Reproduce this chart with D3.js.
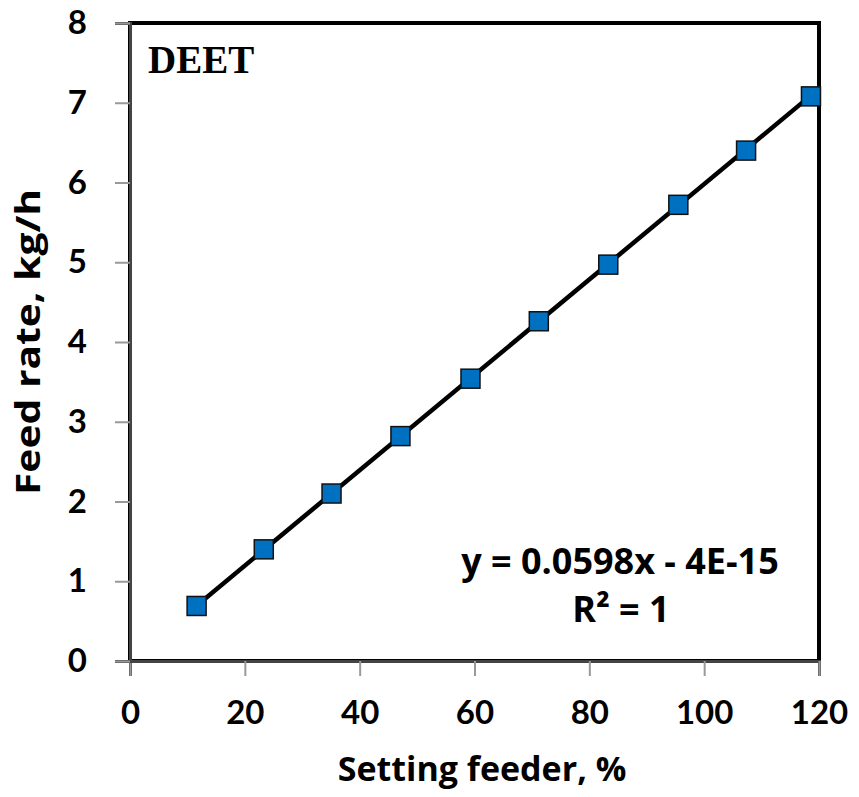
<!DOCTYPE html>
<html><head><meta charset="utf-8">
<script src="https://cdn.jsdelivr.net/npm/d3@7"></script>
<style>body{margin:0;background:#fff}</style>
</head><body>
<svg id="chart" width="859" height="797"></svg>
<script>
// Feeder setting (%) vs measured feed rate (kg/h) for DEET
const settingFeeder = [11.6, 23.3, 35.1, 47.1, 59.3, 71.2, 83.3, 95.5, 107.3, 118.6];
const feedRate = [0.69, 1.40, 2.10, 2.82, 3.54, 4.26, 4.97, 5.72, 6.40, 7.08];
const xTicks = [0, 20, 40, 60, 80, 100, 120];
const yTicks = [0, 1, 2, 3, 4, 5, 6, 7, 8];
const slope = 0.0598, intercept = -4e-15;

const svg = d3.select("#chart");
const L = 130, R = 819, T = 23, B = 661;
const x = d3.scaleLinear().domain([0, 120]).range([L, R]);
const y = d3.scaleLinear().domain([0, 8]).range([B, T]);
const font = "'Open Sans', 'DejaVu Sans', sans-serif";
const tickFont = "Lato, 'Open Sans', sans-serif";

// plot area border
svg.append("rect").attr("x", L).attr("y", T).attr("width", R - L).attr("height", B - T)
  .attr("fill", "none").attr("stroke", "#000").attr("stroke-width", 4);

const xAxis = svg.append("g").attr("transform", `translate(0,${B})`)
  .call(d3.axisBottom(x).tickValues(xTicks).tickSize(15).tickPadding(25));
const yAxis = svg.append("g").attr("transform", `translate(${L},0)`)
  .call(d3.axisLeft(y).tickValues(yTicks).tickSize(15).tickPadding(28));
[xAxis, yAxis].forEach(g => {
  g.select(".domain").attr("stroke", "#444").attr("stroke-width", 3);
  g.selectAll(".tick line").attr("stroke", "#999").attr("stroke-width", 2);
  g.selectAll(".tick text").attr("font-family", tickFont).attr("font-weight", "bold")
    .attr("font-size", 33).attr("fill", "#000");
});

// trendline over the measured range
const x0 = d3.min(settingFeeder), x1 = d3.max(settingFeeder);
svg.append("line")
  .attr("x1", x(x0)).attr("y1", y(slope * x0 + intercept))
  .attr("x2", x(x1)).attr("y2", y(slope * x1 + intercept))
  .attr("stroke", "#000").attr("stroke-width", 4.5);

// markers
const s = 19;
svg.append("g").selectAll("rect").data(settingFeeder).join("rect")
  .attr("x", (d) => x(d) - s / 2)
  .attr("y", (d, i) => y(feedRate[i]) - s / 2)
  .attr("width", s).attr("height", s)
  .attr("fill", "#0070C0").attr("stroke", "#111").attr("stroke-width", 1.5);

// labels
svg.append("text").attr("x", 148).attr("y", 73)
  .attr("font-family", "'Liberation Serif', 'Times New Roman', serif")
  .attr("font-weight", "bold").attr("font-size", 39).text("DEET");

const eq = svg.append("text").attr("font-family", font).attr("font-weight", "bold")
  .attr("font-size", 36).attr("text-anchor", "middle");
eq.append("tspan").attr("x", 620).attr("y", 574).text("y = 0.0598x - 4E-15");
eq.append("tspan").attr("x", 621).attr("y", 622).text("R² = 1");

svg.append("text").attr("x", 482).attr("y", 781)
  .attr("text-anchor", "middle").attr("font-family", font).attr("font-weight", "bold")
  .attr("font-size", 34).text("Setting feeder, %");

svg.append("text").attr("transform", "translate(40,342) rotate(-90) scale(1.2,1)")
  .attr("text-anchor", "middle").attr("font-family", font).attr("font-weight", "bold")
  .attr("font-size", 34).text("Feed rate, kg/h");
</script>
</body></html>
